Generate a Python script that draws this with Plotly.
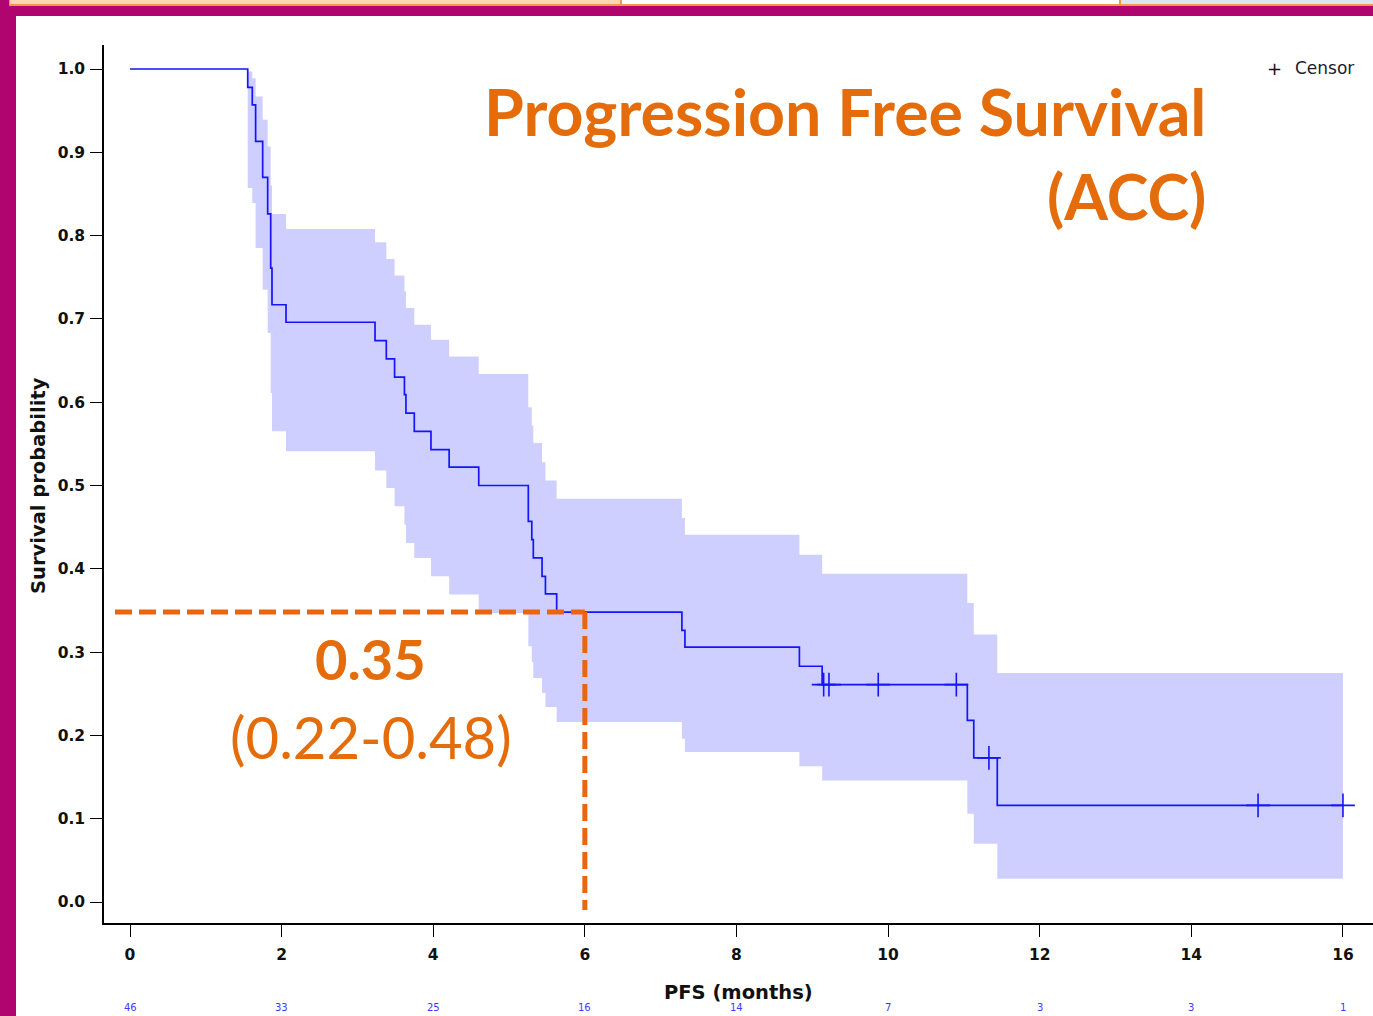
import plotly.graph_objects as go

# ---------------- data ----------------
km_time = [0, 1.553, 1.613, 1.657, 1.75, 1.816, 1.856, 1.873, 2.058, 3.232, 3.381, 3.49, 3.62, 3.64,
           3.75, 3.97, 4.21, 4.60, 5.254, 5.30, 5.32, 5.435, 5.48, 5.628, 7.28, 7.32, 8.83, 9.13,
           11.045, 11.13, 11.44, 16.0]
km_surv = [1.0, 0.978, 0.957, 0.913, 0.870, 0.826, 0.761, 0.717, 0.696, 0.674, 0.652, 0.630, 0.609, 0.587,
           0.565, 0.543, 0.522, 0.500, 0.457, 0.435, 0.413, 0.391, 0.370, 0.348, 0.326, 0.306, 0.283, 0.261,
           0.218, 0.173, 0.116, 0.116]

ci_time = km_time[1:]
ci_upper = [0.997, 0.989, 0.967, 0.939, 0.907, 0.86, 0.826, 0.808, 0.792, 0.772, 0.752, 0.733, 0.713,
            0.693, 0.675, 0.655, 0.634, 0.594, 0.572, 0.551, 0.528, 0.506, 0.484, 0.461, 0.441, 0.417,
            0.394, 0.359, 0.321, 0.275, 0.275]
ci_lower = [0.857, 0.839, 0.785, 0.735, 0.683, 0.611, 0.565, 0.541, 0.518, 0.497, 0.475, 0.453, 0.431,
            0.413, 0.391, 0.369, 0.347, 0.307, 0.288, 0.269, 0.251, 0.234, 0.216, 0.196, 0.180, 0.163,
            0.146, 0.106, 0.070, 0.028, 0.028]

censor_time = [9.15, 9.22, 9.87, 10.9, 11.33, 14.88, 16.0]
censor_surv = [0.261, 0.261, 0.261, 0.261, 0.173, 0.116, 0.116]

risk_time = [0, 2, 4, 6, 8, 10, 12, 14, 16]
risk_n = [46, 33, 25, 16, 14, 7, 3, 3, 1]

landmark_time = 6
landmark_surv = 0.348
landmark_label = "0.35"
landmark_ci_label = "(0.22-0.48)"

y_ticks = [0.0, 0.1, 0.2, 0.3, 0.4, 0.5, 0.6, 0.7, 0.8, 0.9, 1.0]
x_ticks = [0, 2, 4, 6, 8, 10, 12, 14, 16]

title_line1 = "Progression Free Survival"
title_line2 = "(ACC)"

# ---------------- layout helpers ----------------
W, H = 1373, 1016
PL, PT, PW, PH = 104, 45, 1269, 878


def px(x):
    return (x - PL) / PW


def py(y):
    return (PT + PH - y) / PH


BLUE = "rgb(20,20,255)"
BAND = "rgb(207,207,255)"
ORANGE = "#E46C0A"
DASH = "#EC640C"
MAGENTA = "#B0046E"

fig = go.Figure()

# confidence band
fig.add_trace(go.Scatter(x=ci_time, y=ci_lower, mode="lines",
                         line=dict(shape="hv", width=0, color=BAND),
                         hoverinfo="skip", showlegend=False))
fig.add_trace(go.Scatter(x=ci_time, y=ci_upper, mode="lines", fill="tonexty",
                         fillcolor=BAND, line=dict(shape="hv", width=0, color=BAND),
                         hoverinfo="skip", showlegend=False))
# KM curve
fig.add_trace(go.Scatter(x=km_time, y=km_surv, mode="lines",
                         line=dict(shape="hv", width=1.7, color=BLUE), showlegend=False))
# censor marks
fig.add_trace(go.Scatter(x=censor_time, y=censor_surv, mode="markers",
                         marker=dict(symbol="cross-thin", size=17, line=dict(width=1.6, color=BLUE)),
                         showlegend=False))

# landmark dashed lines
x_lo = -0.198
y_lo = -0.0096
fig.add_shape(type="line", xref="x", yref="y", x0=x_lo, x1=landmark_time, y0=landmark_surv, y1=landmark_surv,
              line=dict(color=DASH, width=5, dash="17px,7px"))
fig.add_shape(type="line", xref="x", yref="y", x0=landmark_time, x1=landmark_time, y0=landmark_surv, y1=y_lo,
              line=dict(color=DASH, width=5, dash="17px,7px"))

# slide decorations (magenta frame and tabs)
def rect(x0, y0, x1, y1, color):
    fig.add_shape(type="rect", xref="paper", yref="paper", x0=px(x0), x1=px(x1), y0=py(y1), y1=py(y0),
                  fillcolor=color, line=dict(width=0), layer="above")

rect(0, 5, W, 16, MAGENTA)
rect(0, 0, 16, H, MAGENTA)
rect(9, 0, 620, 4, "#FCD5B4")
rect(622, 0, 1119, 4, "#FFFFFF")
rect(1121, 0, W, 4, "#DCE6F2")
rect(9, 4, W, 6, "#F79646")
rect(620, 0, 622, 5, "#F79646")
rect(1119, 0, 1121, 5, "#F79646")
rect(9, 0, 10, 5, "#F79646")

ann = []
ann.append(dict(text=title_line1, x=px(1208), y=py(111), xanchor="right", yanchor="middle",
                font=dict(family="Lato", size=64.5, color=ORANGE, weight="bold")))
ann.append(dict(text=title_line2, x=px(1208), y=py(195), xanchor="right", yanchor="middle",
                font=dict(family="Lato", size=63, color=ORANGE, weight="bold")))
ann.append(dict(text=landmark_label, x=px(370), y=py(658), xanchor="center", yanchor="middle",
                font=dict(family="Lato", size=56, color=ORANGE, weight="bold")))
ann.append(dict(text=landmark_ci_label, x=px(371), y=py(736), xanchor="center", yanchor="middle",
                font=dict(family="Lato", size=58, color=ORANGE)))
# legend
ann.append(dict(text="+", x=px(1274), y=py(68), xanchor="center", yanchor="middle",
                font=dict(family="DejaVu Sans", size=18, color="#111111")))
ann.append(dict(text="Censor", x=px(1293), y=py(68), xanchor="left", yanchor="middle",
                font=dict(family="DejaVu Sans", size=17, color="#1b1b2f")))
# axis titles
ann.append(dict(text="Survival probability", x=px(38), y=py(486), xanchor="center", yanchor="middle",
                textangle=-90, font=dict(family="DejaVu Sans", size=19.5, color="#111111", weight="bold")))
ann.append(dict(text="PFS (months)", x=px(738), y=py(992), xanchor="center", yanchor="middle",
                font=dict(family="DejaVu Sans", size=19.5, color="#111111", weight="bold")))
# number at risk row (at the bottom edge)
for t, n in zip(risk_time, risk_n):
    ann.append(dict(text=str(n), x=t, xref="x", y=py(1015), yref="paper", xanchor="center", yanchor="bottom",
                    font=dict(family="DejaVu Sans", size=10, color="#3a3aff")))
for a in ann:
    a.setdefault("xref", "paper")
    a.setdefault("yref", "paper")
    a["showarrow"] = False
fig.update_layout(annotations=ann)

x_range = [(PL - 130) / 75.81, (W - 130) / 75.81]
y_range = [(902 - (PT + PH)) / 833, (902 - PT) / 833]

tickfont = dict(family="DejaVu Sans", size=15.5, color="#111111", weight="bold")
fig.update_xaxes(range=x_range, tickvals=x_ticks, ticktext=[str(v) for v in x_ticks],
                 showline=True, linecolor="black", linewidth=1.5, ticks="outside", ticklen=12,
                 tickwidth=1.2, tickcolor="black", showgrid=False, zeroline=False, tickfont=tickfont,
                 ticklabelstandoff=5)
fig.update_yaxes(range=y_range, tickvals=y_ticks, ticktext=["%.1f" % v for v in y_ticks],
                 showline=True, linecolor="black", linewidth=1.5, ticks="outside", ticklen=12,
                 tickwidth=1.2, tickcolor="black", showgrid=False, zeroline=False, tickfont=tickfont,
                 ticklabelstandoff=2)

fig.update_layout(width=W, height=H, margin=dict(l=PL, r=W - PL - PW, t=PT, b=H - PT - PH),
                  paper_bgcolor="white", plot_bgcolor="white", showlegend=False)

fig.write_html("out.html", config={"displayModeBar": False},
               post_script="document.body.style.margin='0';document.body.style.overflow='hidden';")
